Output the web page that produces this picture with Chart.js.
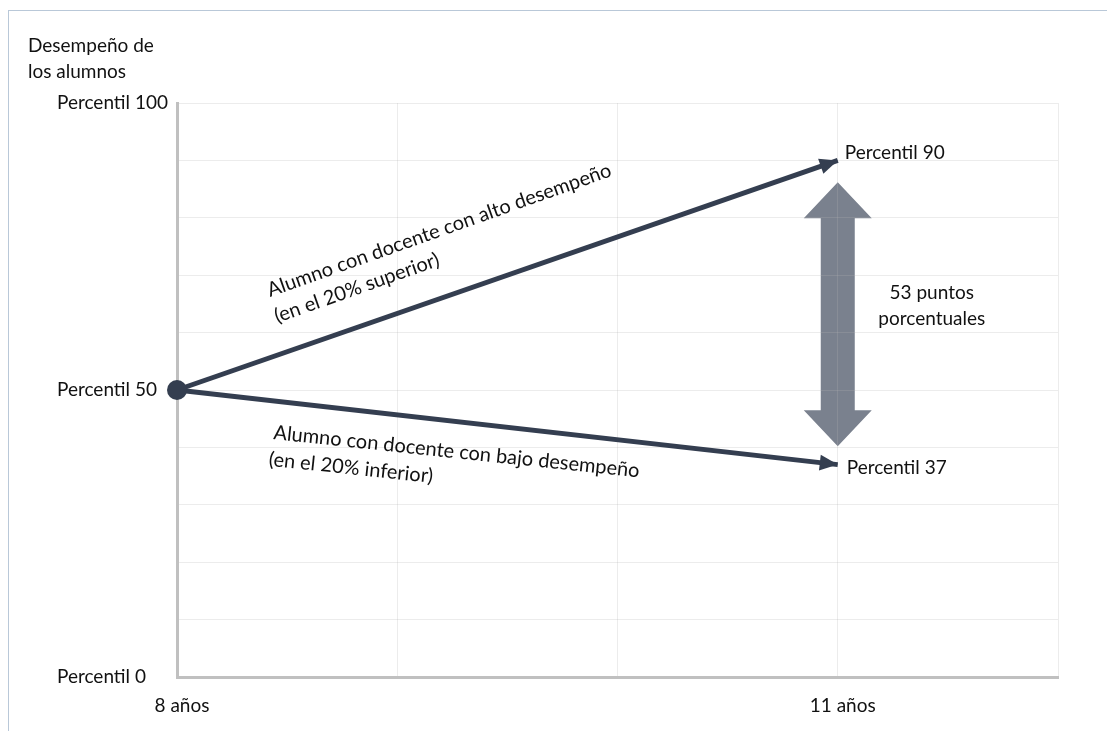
<!DOCTYPE html>
<html>
<head>
<meta charset="utf-8">
<script src="https://cdn.jsdelivr.net/npm/chart.js@4"></script>
<style>
  body { margin: 0; background: #fff; }
  #wrap { position: relative; width: 1107px; height: 731px; }
  #frame { position: absolute; left: 8px; top: 10px; width: 1098px; height: 721px;
           border-top: 1px solid #b9c8d8; border-left: 1px solid #b9c8d8; pointer-events: none; }
</style>
</head>
<body>
<div id="wrap">
  <canvas id="chart" width="1107" height="731"></canvas>
  <div id="frame"></div>
</div>
<script>
// values
const ages = [8, 11];
const highTeacher = [50, 90];
const lowTeacher = [50, 37];
const xTickLabels = { 8: '8 años', 11: '11 años' };
const yTickLabels = { 0: 'Percentil 0', 50: 'Percentil 50', 100: 'Percentil 100' };
const gapRange = [40.2, 86.2];   // grey double arrow, percentile
const gapText = ['53 puntos', 'porcentuales'];
const highText = ['Alumno con docente con alto desempeño', '(en el 20% superior)'];
const lowText = ['Alumno con docente con bajo desempeño', '(en el 20% inferior)'];
const yTitle = ['Desempeño de', 'los alumnos'];

const navy = '#343e50';
const FONT = '19px Lato';
const SLOPE_FONT = '20px Lato';

Chart.defaults.font.family = 'Lato';
Chart.defaults.font.size = 19;
Chart.defaults.color = '#111';

const toPoints = (ys) => ages.map((x, i) => ({ x: x, y: ys[i] }));

function arrowHead(ctx, x0, y0, x1, y1, len, half) {
  const a = Math.atan2(y1 - y0, x1 - x0);
  ctx.save();
  ctx.translate(x1, y1);
  ctx.rotate(a);
  ctx.beginPath();
  ctx.moveTo(0, 0);
  ctx.lineTo(-len, -half);
  ctx.lineTo(-len, half);
  ctx.closePath();
  ctx.fill();
  ctx.restore();
}

const gapArrowPlugin = {
  id: 'gapArrow',
  beforeDraw(chart) {
    const { ctx, scales: { x, y } } = chart;
    const cx = x.getPixelForValue(ages[1]);
    const top = y.getPixelForValue(gapRange[1]);
    const bot = y.getPixelForValue(gapRange[0]);
    const headLen = 36, headHalf = 34, shaftHalf = 17;
    ctx.save();
    ctx.fillStyle = '#7a818e';
    ctx.beginPath();
    ctx.moveTo(cx, top);
    ctx.lineTo(cx + headHalf, top + headLen);
    ctx.lineTo(cx + shaftHalf, top + headLen);
    ctx.lineTo(cx + shaftHalf, bot - headLen);
    ctx.lineTo(cx + headHalf, bot - headLen);
    ctx.lineTo(cx, bot);
    ctx.lineTo(cx - headHalf, bot - headLen);
    ctx.lineTo(cx - shaftHalf, bot - headLen);
    ctx.lineTo(cx - shaftHalf, top + headLen);
    ctx.lineTo(cx - headHalf, top + headLen);
    ctx.closePath();
    ctx.fill();
    ctx.restore();
  }
};

const notesPlugin = {
  id: 'notes',
  afterDatasetsDraw(chart) {
    const { ctx, scales: { x, y } } = chart;
    ctx.save();
    ctx.fillStyle = navy;
    // arrow heads at the end of both lines
    [highTeacher, lowTeacher].forEach(vals => {
      arrowHead(ctx,
        x.getPixelForValue(ages[0]), y.getPixelForValue(vals[0]),
        x.getPixelForValue(ages[1]), y.getPixelForValue(vals[1]), 18, 8);
    });

    ctx.fillStyle = '#111';
    ctx.font = FONT;
    ctx.textBaseline = 'alphabetic';
    ctx.textAlign = 'left';

    // y axis title
    ctx.fillText(yTitle[0], 28, 52);
    ctx.fillText(yTitle[1], 28, 78);

    const ex = x.getPixelForValue(ages[1]);
    ctx.fillText('Percentil ' + highTeacher[1], ex + 7, y.getPixelForValue(highTeacher[1]) - 1);
    ctx.fillText('Percentil ' + lowTeacher[1], ex + 9, y.getPixelForValue(lowTeacher[1]) + 9);

    // gap label
    ctx.textAlign = 'center';
    ctx.fillText(gapText[0], ex + 94, 299);
    ctx.fillText(gapText[1], ex + 94, 325);
    ctx.textAlign = 'left';

    // rotated labels along the lines
    ctx.font = SLOPE_FONT;
    const sx = x.getPixelForValue(ages[0]);
    ctx.save();
    ctx.translate(sx + 93, y.getPixelForValue(highTeacher[0]) - 93);
    ctx.rotate(-19.5 * Math.PI / 180);
    ctx.fillText(highText[0], 0, 0);
    ctx.fillText(highText[1], -2, 27);
    ctx.restore();

    ctx.save();
    ctx.translate(sx + 96, y.getPixelForValue(lowTeacher[0]) + 49);
    ctx.rotate(6 * Math.PI / 180);
    ctx.fillText(lowText[0], 0, 0);
    ctx.fillText(lowText[1], -2, 27);
    ctx.restore();

    ctx.restore();
  }
};

new Chart(document.getElementById('chart'), {
  type: 'scatter',
  data: {
    datasets: [{
      data: toPoints(highTeacher),
      showLine: true,
      clip: false,
      borderColor: navy,
      backgroundColor: navy,
      borderWidth: 5,
      pointRadius: [10, 0],
      pointBorderWidth: 0
    }, {
      data: toPoints(lowTeacher),
      showLine: true,
      clip: false,
      borderColor: navy,
      backgroundColor: navy,
      borderWidth: 5,
      pointRadius: 0
    }]
  },
  options: {
    responsive: false,
    animation: false,
    layout: { padding: { left: 57, top: 103, right: 49, bottom: 0 } },
    plugins: { legend: { display: false }, tooltip: { enabled: false } },
    scales: {
      x: {
        type: 'linear', min: 8, max: 12,
        afterFit: s => { s.height = 54; },
        ticks: {
          stepSize: 1, autoSkip: false, maxRotation: 0,
          padding: 17, labelOffset: 5,
          callback: v => xTickLabels[v] || ''
        },
        grid: { color: 'rgba(180,180,180,0.25)', drawTicks: false },
        border: { color: '#c0c0c0', width: 3 }
      },
      y: {
        min: 0, max: 100,
        afterFit: s => { s.width = 120; },
        ticks: {
          stepSize: 10, autoSkip: false, crossAlign: 'far', padding: 8,
          callback: v => yTickLabels[v] || ''
        },
        grid: { color: 'rgba(180,180,180,0.25)', drawTicks: false },
        border: { color: '#c0c0c0', width: 3 }
      }
    }
  },
  plugins: [gapArrowPlugin, notesPlugin]
});
</script>
</body>
</html>
